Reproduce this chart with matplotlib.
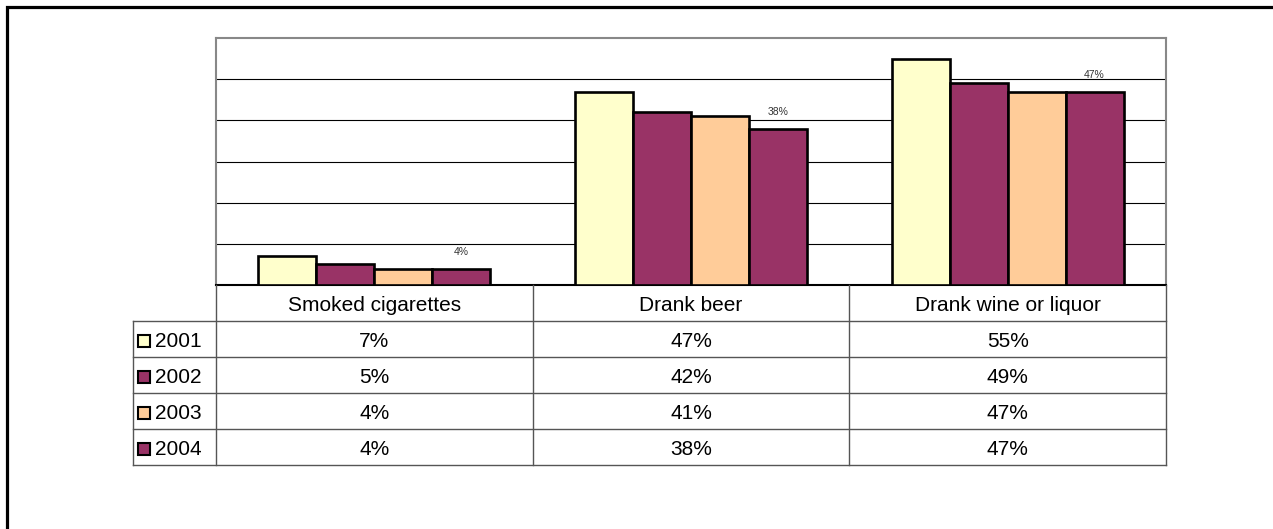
import numpy as np
import matplotlib.pyplot as plt
from matplotlib.patches import Rectangle

plt.rcParams['font.family'] = ['Liberation Sans', 'DejaVu Sans']

# Chart data
categories = ["Smoked cigarettes", "Drank beer", "Drank wine or liquor"]
years = ["2001", "2002", "2003", "2004"]
values = {
    "2001": [7, 47, 55],
    "2002": [5, 42, 49],
    "2003": [4, 41, 47],
    "2004": [4, 38, 47],
}
colors = ["#FFFFCC", "#993366", "#FFCC99", "#993366"]

W, H = 1273, 529
fig = plt.figure(figsize=(W / 100, H / 100), dpi=100)

# Outer black frame (runs off right and bottom edges)
fig.patches.append(Rectangle((7 / W, -0.1), 1.2, 1 - 7 / H + 0.1, transform=fig.transFigure,
                             fill=False, edgecolor="black", linewidth=2.3))

# Plot area
left, right, top, base = 216, 1166, 38, 285
ax = fig.add_axes([left / W, 1 - base / H, (right - left) / W, (base - top) / H])
x = np.arange(len(categories))
bw = 0.183
for i, yr in enumerate(years):
    ax.bar(x + (i - 1.5) * bw, values[yr], width=bw, color=colors[i],
           edgecolor="black", linewidth=1.9, zorder=3)
# data labels only on the last series
last = values[years[-1]]
for xi, v in zip(x + 1.5 * bw, last):
    ax.annotate(f"{v}%", (xi, v), xytext=(0, 8), textcoords="offset points",
                ha="center", va="bottom", fontsize=7.5, color="#333333")

ax.set_xlim(-0.5, 2.5)
ax.set_ylim(0, 60)
ax.set_yticks(np.arange(10, 60, 10))
ax.yaxis.grid(True, color="black", linewidth=0.8, zorder=0)
ax.tick_params(left=False, bottom=False, labelleft=False, labelbottom=False)
for s in ["left", "right", "top"]:
    ax.spines[s].set_color("#888888")
    ax.spines[s].set_linewidth(1.5)
ax.spines["bottom"].set_color("black")
ax.spines["bottom"].set_linewidth(1.5)

# Data table under the chart
tleft, tbottom = 133, 465
ppu = (right - left) / 3.0
xmin = -0.5 - (left - tleft) / ppu
tab = fig.add_axes([tleft / W, 1 - tbottom / H, (right - tleft) / W, (tbottom - base) / H])
tab.set_xlim(xmin, 2.5)
tab.set_ylim(5, 0)
tab.axis("off")
lc = "#555555"
lw = 1.0
# horizontal lines
for r in range(1, 6):
    tab.plot([xmin, 2.5], [r, r], color=lc, linewidth=lw, clip_on=False)
# vertical lines
for b in [-0.5, 0.5, 1.5, 2.5]:
    tab.plot([b, b], [0, 5], color=lc, linewidth=lw, clip_on=False)
tab.plot([xmin, xmin], [1, 5], color=lc, linewidth=lw, clip_on=False)

fs = 15
dy = 0.06
for j, cat in enumerate(categories):
    tab.text(j, 0.5 + dy, cat, ha="center", va="center", fontsize=fs)
key_w = 12 / ppu
for i, yr in enumerate(years):
    row = i + 1.5
    tab.add_patch(Rectangle((xmin + 5 / ppu, row - 0.17 + dy), key_w, 0.34,
                            facecolor=colors[i], edgecolor="black", linewidth=1.5))
    tab.text(xmin + 22 / ppu, row + dy, yr, ha="left", va="center", fontsize=fs)
    for j, v in enumerate(values[yr]):
        tab.text(j, row + dy, f"{v}%", ha="center", va="center", fontsize=fs)

fig.savefig("out.png", dpi=100)
